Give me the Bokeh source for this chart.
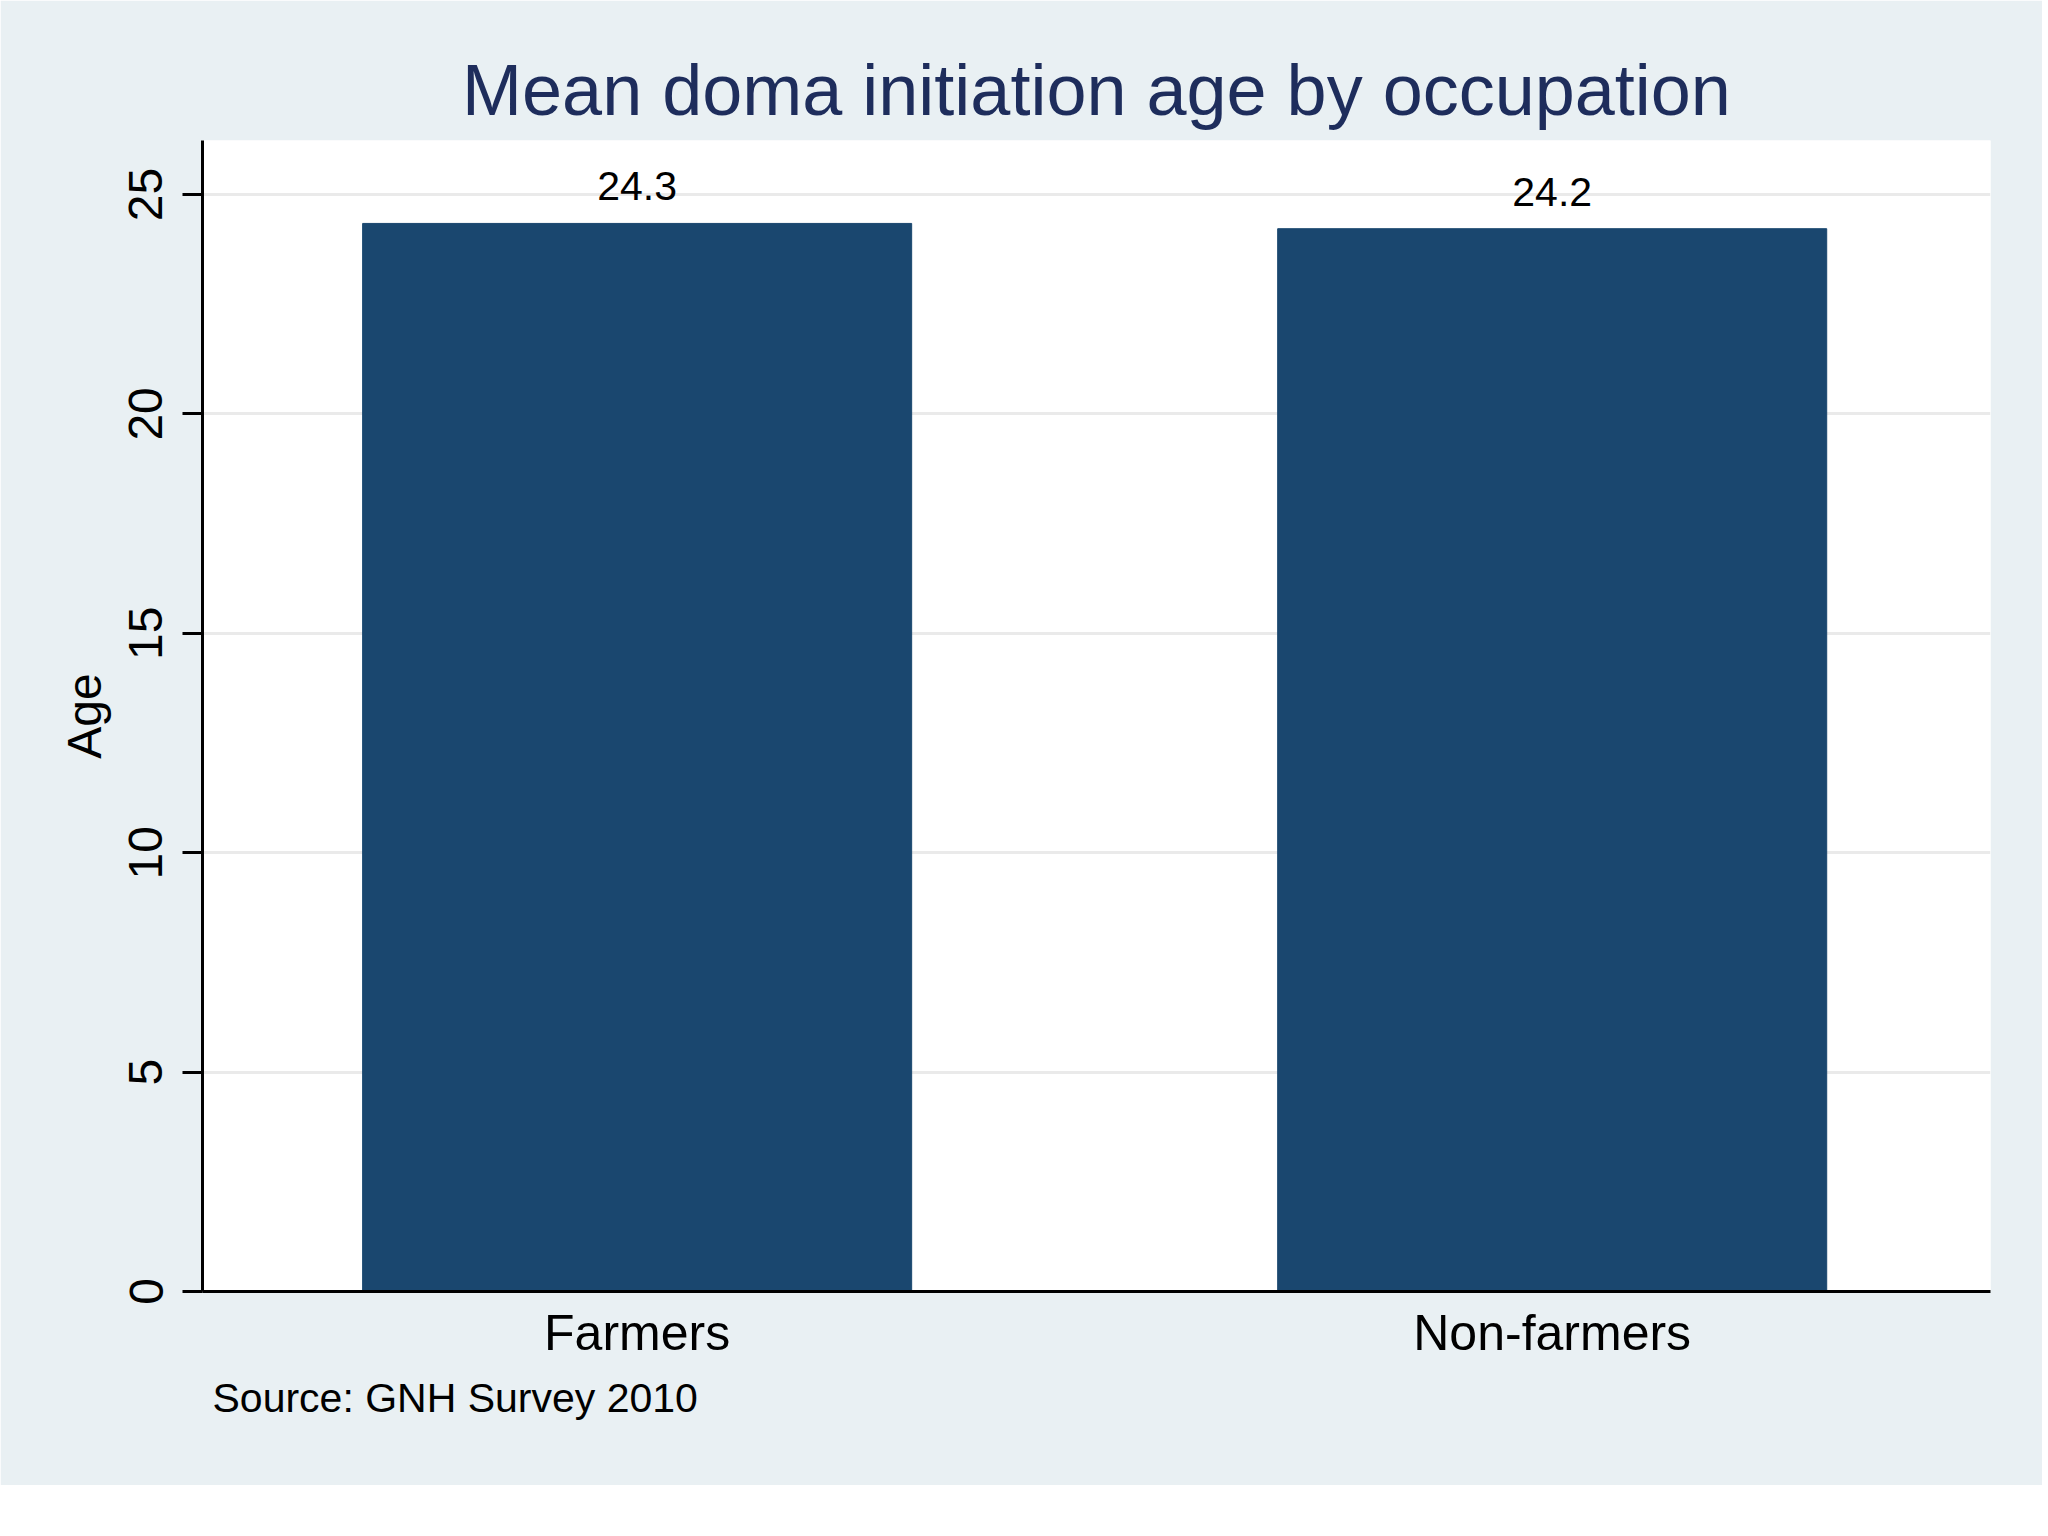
from bokeh.plotting import figure
from bokeh.models import Range1d, FixedTicker, Title, ColumnDataSource
from bokeh.embed import file_html
from bokeh.resources import INLINE

# ---- data ----
categories = ["Farmers", "Non-farmers"]
mean_age = [24.34, 24.22]
y_ticks = [0, 5, 10, 15, 20, 25]

title_text = "Mean doma initiation age by occupation"
y_label = "Age"
source_note = "Source: GNH Survey 2010"

FONT = "Liberation Sans"
BG = "#E9F0F3"
BAR = "#1A476F"
TITLE_COLOR = "#1E2D5C"

positions = [i + 1 for i in range(len(categories))]
labels = ["%.1f" % v for v in mean_age]
src = ColumnDataSource(dict(x=positions, top=mean_age, label=labels))

p = figure(
    width=2042, height=1485,
    x_range=Range1d(0.525, 2.479), y_range=Range1d(0, 26.23),
    output_backend="svg", toolbar_location=None,
    min_border_left=202, min_border_right=52,
    min_border_top=140, min_border_bottom=194,
)
p.background_fill_color = "white"
p.border_fill_color = BG
p.outline_line_color = None

p.vbar(x="x", top="top", width=0.6, bottom=0, source=src,
       fill_color=BAR, line_color=BAR)
p.text(x="x", y="top", text="label", source=src,
       text_align="center", text_baseline="alphabetic",
       y_offset=-37, text_font_size="41px", text_color="black",
       text_font={"value": FONT})

# title
t = Title(text=title_text, align="center", text_font=FONT,
          text_font_size="72px", text_font_style="normal",
          text_color=TITLE_COLOR, standoff=21)
p.add_layout(t, "above")

# source note
s = Title(text=source_note, align="left", text_font=FONT,
          text_font_size="41px", text_font_style="normal",
          text_color="black", offset=10, standoff=19)
p.add_layout(s, "below")

# grid
p.xgrid.grid_line_color = None
p.ygrid.grid_line_color = "#EAEAEA"
p.ygrid.grid_line_width = 3
p.ygrid.ticker = FixedTicker(ticks=y_ticks)

# y axis
ya = p.yaxis[0]
ya.ticker = FixedTicker(ticks=y_ticks)
ya.major_label_orientation = "vertical"
ya.major_label_text_font = FONT
ya.major_label_text_font_size = "48px"
ya.major_label_text_color = "black"
ya.major_label_standoff = 20
ya.major_tick_out = 20
ya.major_tick_in = 0
ya.major_tick_line_width = 3
ya.major_tick_line_color = "black"
ya.minor_tick_line_color = None
ya.axis_line_width = 3
ya.axis_line_color = "black"
ya.axis_label = y_label
ya.axis_label_text_font = FONT
ya.axis_label_text_font_size = "48px"
ya.axis_label_text_font_style = "normal"
ya.axis_label_text_color = "black"
ya.axis_label_standoff = 16

# x axis
xa = p.xaxis[0]
xa.ticker = FixedTicker(ticks=positions)
xa.major_label_overrides = {pos: c for pos, c in zip(positions, categories)}
xa.major_label_text_font = FONT
xa.major_label_text_font_size = "50px"
xa.major_label_text_color = "black"
xa.major_label_standoff = 7
xa.major_tick_line_color = None
xa.minor_tick_line_color = None
xa.axis_line_width = 3
xa.axis_line_color = "black"

open("out.html", "w").write(file_html(p, INLINE))
